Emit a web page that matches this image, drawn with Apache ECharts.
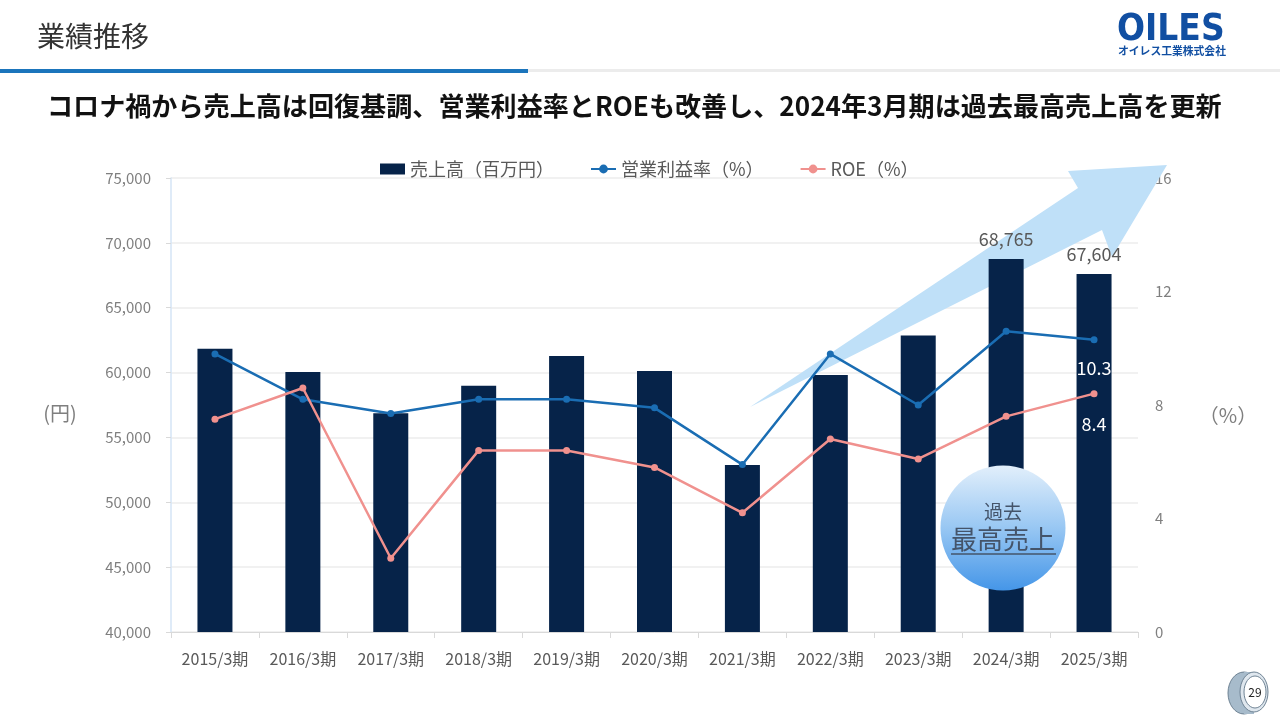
<!DOCTYPE html>
<html>
<head>
<meta charset="utf-8">
<script src="https://cdn.jsdelivr.net/npm/echarts@6/dist/echarts.min.js"></script>
<style>
html,body{margin:0;padding:0;background:#fff;}
#c{width:1280px;height:720px;}
</style>
</head>
<body>
<div id="c"></div>
<script>
const categories = ['2015/3期','2016/3期','2017/3期','2018/3期','2019/3期','2020/3期','2021/3期','2022/3期','2023/3期','2024/3期','2025/3期'];
const sales = [61840, 60050, 56860, 58990, 61280, 60120, 52880, 59820, 62850, 68765, 67604];
const opMargin = [9.8, 8.2, 7.7, 8.2, 8.2, 7.9, 5.9, 9.8, 8.0, 10.6, 10.3];
const roe = [7.5, 8.6, 2.6, 6.4, 6.4, 5.8, 4.2, 6.8, 6.1, 7.6, 8.4];
const labeledSalesFrom = 9;
const labeledLineIndex = 10;
const seriesNames = ['売上高（百万円）','営業利益率（%）','ROE（%）'];

const FONT = '"Noto Sans CJK JP", "Noto Sans", sans-serif';
const chart = echarts.init(document.getElementById('c'));

const fmt = v => String(v).replace(/\B(?=(\d{3})+(?!\d))/g, ',');

const option = {
  backgroundColor: '#fff',
  textStyle: { fontFamily: FONT },
  animation: false,
  grid: { left: 171, right: 142, top: 178, bottom: 88, containLabel: false },
  legend: {
    left: 375, top: 155,
    itemGap: 36, itemWidth: 25, itemHeight: 11,
    textStyle: { fontSize: 18, color: '#595959', fontFamily: FONT },
    data: [
      { name: seriesNames[0], icon: 'rect' },
      { name: seriesNames[1] },
      { name: seriesNames[2] }
    ]
  },
  xAxis: {
    type: 'category',
    data: categories,
    axisLine: { lineStyle: { color: '#d9d9d9', width: 1 } },
    axisTick: { show: true, length: 6, lineStyle: { color: '#d9d9d9' } },
    axisLabel: { fontSize: 16, color: '#595959', margin: 19, fontFamily: FONT }
  },
  yAxis: [
    {
      type: 'value', min: 40000, max: 75000, interval: 5000,
      axisLine: { show: true, lineStyle: { color: '#d5e5f6', width: 1.5 } },
      axisTick: { show: true, length: 5, lineStyle: { color: '#d9d9d9' } },
      splitLine: { lineStyle: { color: '#ececec', width: 1.5 } },
      axisLabel: { fontSize: 15, color: '#7f7f7f', margin: 20, formatter: v => fmt(v), fontFamily: FONT }
    },
    {
      type: 'value', min: 0, max: 16, interval: 4,
      axisLine: { show: false },
      axisTick: { show: false },
      splitLine: { show: false },
      axisLabel: { fontSize: 15, color: '#7f7f7f', margin: 17, fontFamily: FONT }
    }
  ],
  series: [
    {
      name: seriesNames[0], type: 'bar', yAxisIndex: 0, barWidth: 35, z: 3,
      itemStyle: { color: '#062349' },
      data: sales.map((v, i) => ({
        value: v,
        label: {
          show: i >= labeledSalesFrom, position: 'top', distance: 11,
          fontSize: 18, color: '#595959', fontFamily: FONT,
          formatter: p => fmt(p.value)
        }
      }))
    },
    {
      name: seriesNames[1], type: 'line', yAxisIndex: 1, z: 5,
      symbol: 'circle', symbolSize: 7,
      lineStyle: { color: '#1a6db3', width: 2.5 },
      itemStyle: { color: '#1a6db3' },
      data: opMargin.map((v, i) => ({
        value: v,
        label: {
          show: i === labeledLineIndex, position: 'bottom', distance: 16,
          fontSize: 18, color: '#ffffff', fontFamily: FONT
        }
      }))
    },
    {
      name: seriesNames[2], type: 'line', yAxisIndex: 1, z: 5,
      symbol: 'circle', symbolSize: 7,
      lineStyle: { color: '#f0918e', width: 2.5 },
      itemStyle: { color: '#f0918e' },
      data: roe.map((v, i) => ({
        value: v,
        label: {
          show: i === labeledLineIndex, position: 'bottom', distance: 18,
          fontSize: 18, color: '#ffffff', fontFamily: FONT
        }
      }))
    }
  ],
  graphic: [
    // header
    { type: 'text', left: 37, top: 22, z: 10, style: { text: '業績推移', fontSize: 28, fill: '#333', fontFamily: FONT } },
    { type: 'rect', shape: { x: 0, y: 69, width: 528, height: 4 }, style: { fill: '#1b75bc' }, z: 10 },
    { type: 'rect', shape: { x: 528, y: 69, width: 752, height: 3 }, style: { fill: '#ececec' }, z: 10 },
    // logo
    { type: 'text', x: 1117, y: 12, z: 10, scaleY: 1.12, style: { text: 'OILES', fontSize: 33, fontWeight: 'bold', fill: '#114fa2', fontFamily: 'DejaVu Sans' } },
    { type: 'text', x: 1118, y: 46, z: 10, style: { text: 'オイレス工業株式会社', fontSize: 10.8, fontWeight: 'bold', fill: '#114fa2', fontFamily: FONT } },
    // subtitle
    { type: 'text', x: 47, y: 93, z: 10, style: { text: 'コロナ禍から売上高は回復基調、営業利益率とROEも改善し、2024年3月期は過去最高売上高を更新', fontSize: 26.1, fontWeight: 'bold', fill: '#111', fontFamily: FONT } },
    // axis unit labels
    { type: 'text', x: 60, y: 413, z: 10, style: { text: '(円)', fontSize: 20, fill: '#7f7f7f', align: 'center', verticalAlign: 'middle', fontFamily: FONT } },
    { type: 'text', x: 1228, y: 415, z: 10, style: { text: '（%）', fontSize: 20, fill: '#7f7f7f', align: 'center', verticalAlign: 'middle', fontFamily: FONT } },
    // big arrow (decoration, behind bars)
    { type: 'polygon', z: 1, shape: { points: [[750,407],[1078,188],[1068,171],[1167,165],[1112,257],[1102,230]] }, style: { fill: '#bfe0f8' } },
    // bubble
    { type: 'circle', z: 20, shape: { cx: 1003, cy: 528, r: 62.5 },
      style: { fill: new echarts.graphic.LinearGradient(0, 0, 0, 1, [
        { offset: 0, color: '#e2effb' }, { offset: 0.5, color: '#98c7f3' }, { offset: 1, color: '#4596e8' }]) } },
    { type: 'text', z: 21, x: 1003, y: 512, style: { text: '過去', fontSize: 19, fill: '#44546a', align: 'center', verticalAlign: 'middle', fontFamily: FONT } },
    { type: 'text', z: 21, x: 1003, y: 539, style: { text: '最高売上', fontSize: 26, fill: '#44546a', align: 'center', verticalAlign: 'middle', fontFamily: FONT } },
    { type: 'line', z: 21, shape: { x1: 951, y1: 554, x2: 1056, y2: 554 }, style: { stroke: '#44546a', lineWidth: 1.5 } },
    // page number bearing icon
    { type: 'ellipse', z: 10, shape: { cx: 1244, cy: 693, rx: 16, ry: 21 }, style: { fill: '#a7bbcb', stroke: '#6f8394', lineWidth: 1 } },
    { type: 'rect', z: 10, shape: { x: 1244, y: 672, width: 10, height: 42 }, style: { fill: '#a7bbcb' } },
    { type: 'ellipse', z: 11, shape: { cx: 1254, cy: 692, rx: 14, ry: 20 }, style: { fill: '#dfe7ee', stroke: '#6f8394', lineWidth: 1 } },
    { type: 'ellipse', z: 12, shape: { cx: 1255, cy: 692, rx: 11, ry: 16 }, style: { fill: '#ffffff', stroke: '#6f8394', lineWidth: 1 } },
    { type: 'text', z: 13, x: 1255, y: 692, style: { text: '29', fontSize: 12, fill: '#222', align: 'center', verticalAlign: 'middle', fontFamily: FONT } }
  ]
};
chart.setOption(option);
</script>
</body>
</html>
